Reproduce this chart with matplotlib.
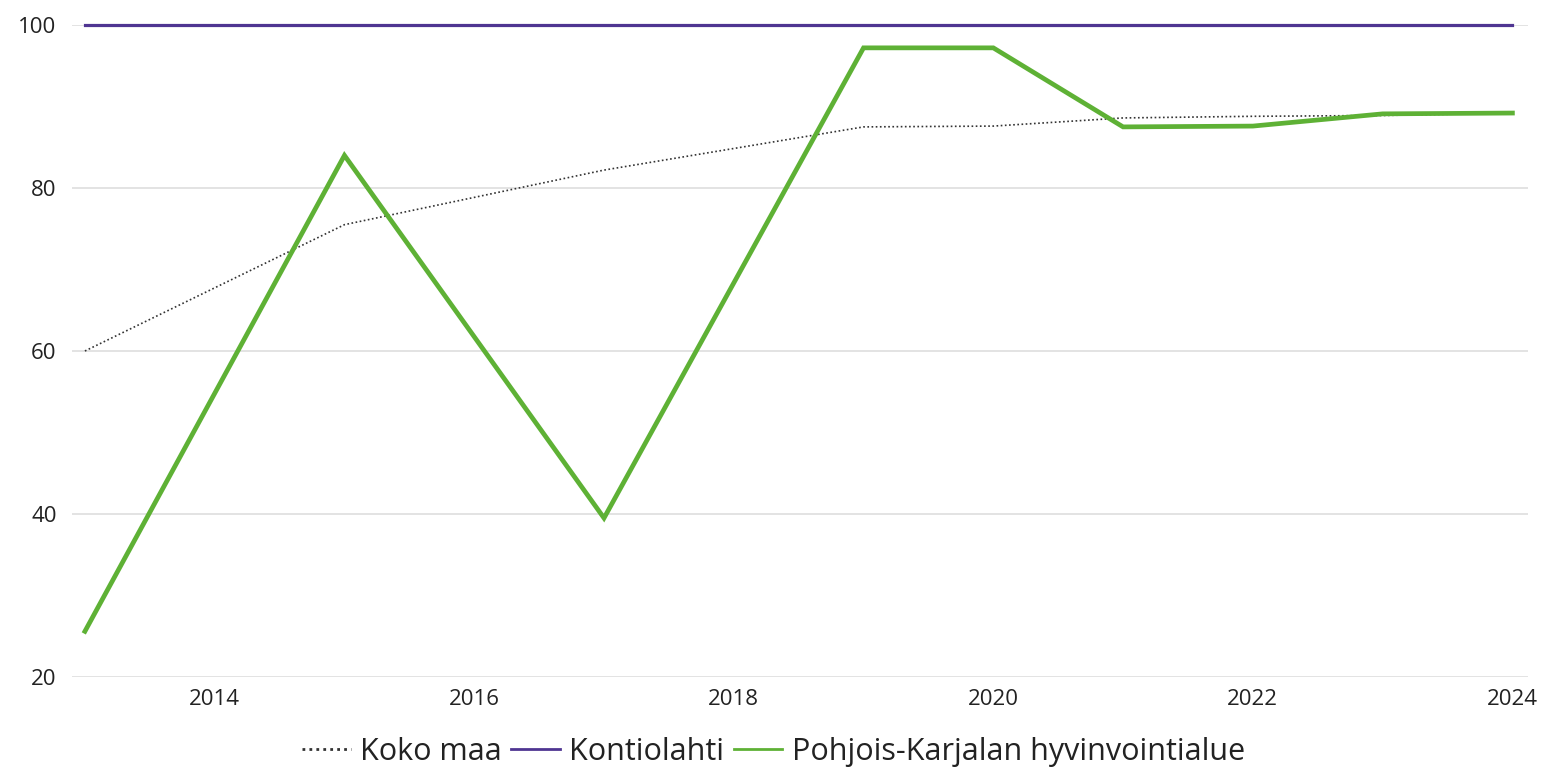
import matplotlib
matplotlib.use("Agg")
import matplotlib.pyplot as plt
from matplotlib.ticker import FixedLocator

# data
years_koko = [2013, 2015, 2017, 2019, 2020, 2021, 2022, 2023, 2024]
koko_maa = [60.0, 75.5, 82.2, 87.5, 87.6, 88.6, 88.8, 88.9, 89.2]

years_kontio = [2013, 2015, 2017, 2019, 2020, 2021, 2022, 2023, 2024]
kontiolahti = [100, 100, 100, 100, 100, 100, 100, 100, 100]

years_pk = [2013, 2015, 2017, 2019, 2020, 2021, 2022, 2023, 2024]
pohjois_karjala = [25.6, 84.0, 39.5, 97.2, 97.2, 87.5, 87.6, 89.1, 89.2]

x_ticks = [2014, 2016, 2018, 2020, 2022, 2024]
y_ticks = [20, 40, 60, 80, 100]

plt.rcParams["font.family"] = ["Open Sans", "DejaVu Sans"]

fig = plt.figure(figsize=(15.47, 7.75), dpi=100)
ax = fig.add_axes([0.0465, 0.1265, 0.9412, 0.8412])

ax.plot(years_koko, koko_maa, color="#333333", lw=1.2, ls=(0, (1, 1.5)),
        label="Koko maa", clip_on=False, zorder=3)
ax.plot(years_kontio, kontiolahti, color="#4f3592", lw=2.3,
        label="Kontiolahti", clip_on=False, zorder=4)
ax.plot(years_pk, pohjois_karjala, color="#5eb135", lw=3.4,
        label="Pohjois-Karjalan hyvinvointialue", clip_on=False, zorder=5,
        solid_joinstyle="miter")

ax.set_xlim(2012.9, 2024.12)
ax.set_ylim(20, 100)
ax.xaxis.set_major_locator(FixedLocator(x_ticks))
ax.yaxis.set_major_locator(FixedLocator(y_ticks))
ax.set_xticklabels([str(t) for t in x_ticks])
ax.set_yticklabels([str(t) for t in y_ticks])

ax.grid(axis="y", color="#e1e1e1", lw=1.3, zorder=0)
ax.grid(axis="x", visible=False)
for s in ax.spines.values():
    s.set_visible(False)
ax.tick_params(axis="both", length=0, labelsize=16, labelcolor="#222222")
ax.tick_params(axis="y", pad=11)
ax.tick_params(axis="x", pad=9)

leg = ax.legend(loc="center", ncol=3, frameon=False, fontsize=22,
                handlelength=1.6, handletextpad=0.3, columnspacing=0.3)
leg.set_bbox_to_anchor((0.5, 1 - 752 / 775), transform=fig.transFigure)
for t in leg.get_texts():
    t.set_color("#222222")
for h in leg.get_lines():
    h.set_linewidth(2.0)

fig.savefig("out.png", dpi=100)
